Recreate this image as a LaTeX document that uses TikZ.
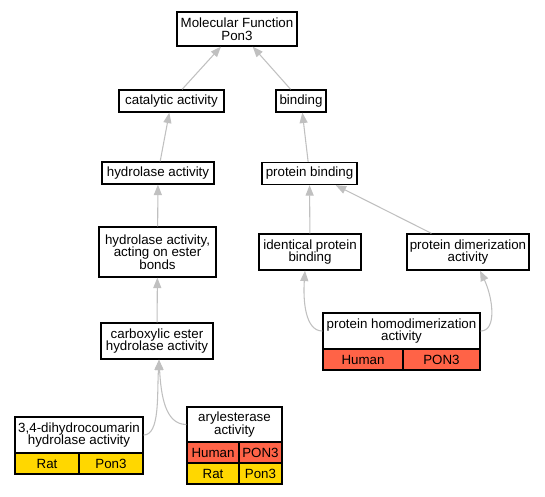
\documentclass[tikz,border=0pt]{standalone}
\usepackage{fontspec}
\setmainfont{Liberation Sans}
\usetikzlibrary{arrows.meta,calc}
\definecolor{tomato}{HTML}{FF6347}
\definecolor{gold}{HTML}{FFD700}
\definecolor{edgegray}{HTML}{C0C0C0}
\newlength\pxunit
\setlength\pxunit{0.75pt}
\tikzset{
  goterm/.style={draw, line width=1pt, fill=white, align=center, inner sep=0pt, font=\fontsize{10}{9.5}\selectfont},
  humancell/.style={goterm, fill=tomato},
  ratcell/.style={goterm, fill=gold},
  isa/.style={draw=edgegray, line width=0.8pt, -{Triangle[length=7.8pt, width=6pt, fill=edgegray]}}
}

\begin{document}
\begin{tikzpicture}[x=\pxunit,y=-\pxunit]
\useasboundingbox (0,0) rectangle (545,496);
\node[goterm, minimum width=120\pxunit, minimum height=34\pxunit] (mf) at (237,29) {Molecular Function\\Pon3};
\node[goterm, minimum width=105\pxunit, minimum height=22\pxunit] (catalytic) at (171.5,101) {catalytic activity};
\node[goterm, minimum width=50\pxunit, minimum height=22\pxunit] (binding) at (301,101) {binding};
\node[goterm, minimum width=112\pxunit, minimum height=22\pxunit] (hydrolase) at (158,173) {hydrolase activity};
\node[goterm, minimum width=95\pxunit, minimum height=22\pxunit] (protbind) at (309.5,173.5) {protein binding};
\node[goterm, minimum width=117\pxunit, minimum height=50\pxunit] (ester) at (157.5,252) {hydrolase activity,\\acting on ester\\bonds};
\node[goterm, minimum width=102\pxunit, minimum height=36\pxunit] (identical) at (310,252) {identical protein\\binding};
\node[goterm, minimum width=122\pxunit, minimum height=36\pxunit] (dimer) at (468,252) {protein dimerization\\activity};
\node[goterm, minimum width=112\pxunit, minimum height=36\pxunit] (carboxyl) at (157,341) {carboxylic ester\\hydrolase activity};
% annotated terms with their species rows
\node[goterm, minimum width=157\pxunit, minimum height=36\pxunit] (homodimer) at (401.5,331) {protein homodimerization\\activity};
\node[humancell, minimum width=80\pxunit, minimum height=21\pxunit] (homohuman) at (363,359.5) {Human};
\node[humancell, minimum width=77\pxunit, minimum height=21\pxunit] (homopon) at (441.5,359.5) {PON3};
\node[goterm, minimum width=128\pxunit, minimum height=36\pxunit] (dihydro) at (79,435) {3,4-dihydrocoumarin\\hydrolase activity};
\node[ratcell, minimum width=64\pxunit, minimum height=21\pxunit] (dihydrorat) at (47,463.5) {Rat};
\node[ratcell, minimum width=64\pxunit, minimum height=21\pxunit] (dihydropon) at (111,463.5) {Pon3};
\node[goterm, minimum width=95\pxunit, minimum height=35\pxunit] (aryl) at (234.5,424.5) {arylesterase\\activity};
\node[humancell, minimum width=52\pxunit, minimum height=21\pxunit] (arylhuman) at (213,452.5) {Human};
\node[humancell, minimum width=43\pxunit, minimum height=21\pxunit] (arylhpon) at (260.5,452.5) {PON3};
\node[ratcell, minimum width=52\pxunit, minimum height=21\pxunit] (arylrat) at (213,473.5) {Rat};
\node[ratcell, minimum width=43\pxunit, minimum height=21\pxunit] (arylrpon) at (260.5,473.5) {Pon3};
\draw[isa] (catalytic) -- (mf);
\draw[isa] (binding) -- (mf);
\draw[isa] (hydrolase) -- (catalytic);
\draw[isa] (protbind) -- (binding);
\draw[isa] (ester) -- (hydrolase);
\draw[isa] (identical) -- (protbind);
\draw[isa] (dimer.153) -- (protbind.-24);
\draw[isa] (carboxyl) -- (ester);
\draw[isa] (homodimer.west) .. controls (305,331) and (303,300) .. ($(identical.south)+(-5,0)$);
\draw[isa] (homodimer.east) .. controls (497,331) and (493,298) .. ($(dimer.south)+(12,0)$);
\draw[isa] (dihydro.east) .. controls (160,435) and (157,395) .. ($(carboxyl.south)+(2,0)$);
\draw[isa] (aryl.west) .. controls (165,424.5) and (161,395) .. ($(carboxyl.south)+(2,0)$);
\end{tikzpicture}
\end{document}
